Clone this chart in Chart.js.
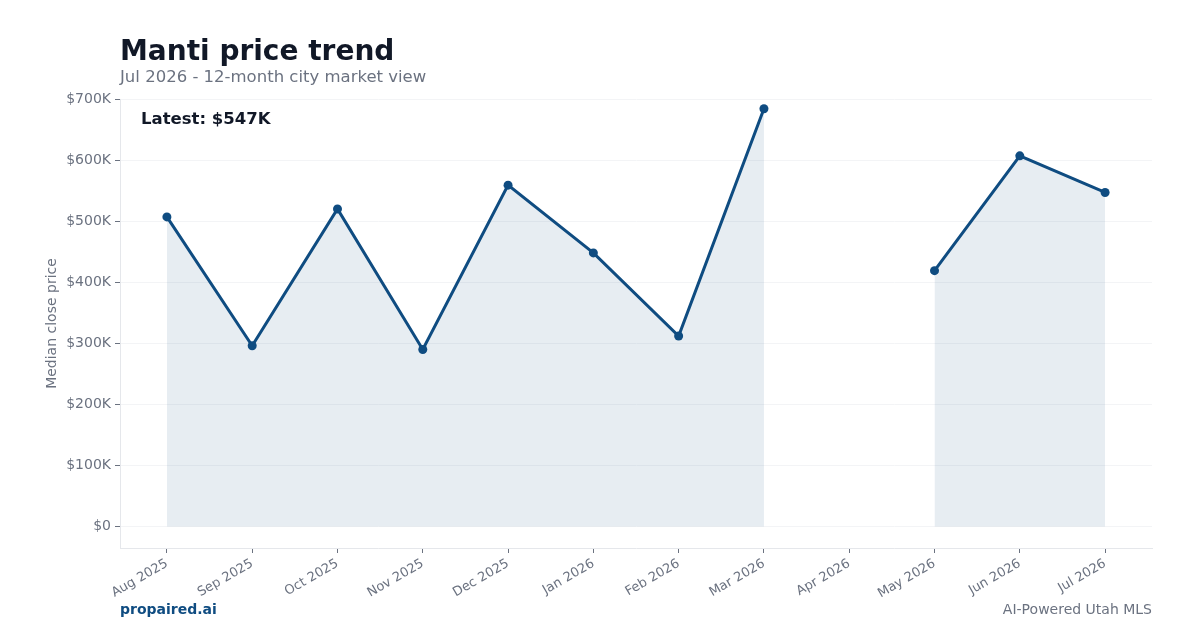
<!DOCTYPE html>
<html>
<head>
<meta charset="utf-8">
<script src="https://cdn.jsdelivr.net/npm/chart.js@4"></script>
<style>
  body { margin: 0; background: #fff; font-family: "DejaVu Sans", sans-serif; }
  #wrap { position: relative; width: 1200px; height: 630px; }
  canvas { position: absolute; left: 0; top: 0; }
  .title { position: absolute; left: 120px; top: 34px; font-size: 28px; font-weight: bold; color: #111827; }
  .sub { position: absolute; left: 120px; top: 67px; font-size: 16.5px; color: #6b7280; }
  .brand { position: absolute; left: 120px; top: 601px; font-size: 14px; font-weight: bold; color: #0f4c81; }
  .tag { position: absolute; right: 48px; top: 601px; font-size: 14px; color: #6b7280; }
</style>
</head>
<body>
<div id="wrap">
  <canvas id="priceChart" width="1200" height="630"></canvas>
  <div class="title">Manti price trend</div>
  <div class="sub">Jul 2026 - 12-month city market view</div>
  <div class="brand">propaired.ai</div>
  <div class="tag">AI-Powered Utah MLS</div>
</div>
<script>
// Monthly labels and median close prices (Apr 2026 had no sales)
const months = ["Aug 2025", "Sep 2025", "Oct 2025", "Nov 2025", "Dec 2025", "Jan 2026",
  "Feb 2026", "Mar 2026", "Apr 2026", "May 2026", "Jun 2026", "Jul 2026"];
const medianPrice = [507000, 296000, 520000, 290000, 559000, 448000,
  312000, 684000, null, 419000, 607000, 547000];
const yTicks = [0, 100000, 200000, 300000, 400000, 500000, 600000, 700000];

const lineColor = "#0f4c81";
const latest = medianPrice[medianPrice.length - 1];

// Draw the "Latest" note in the corner of the plot
const latestLabel = {
  id: "latestLabel",
  afterDraw(chart) {
    const { ctx, chartArea } = chart;
    ctx.save();
    ctx.font = "bold 16.5px 'DejaVu Sans'";
    ctx.fillStyle = "#111827";
    ctx.textBaseline = "middle";
    ctx.fillText(`Latest: $${Math.round(latest / 1000)}K`, chartArea.left + 21, chartArea.top + 21);
    ctx.restore();
  }
};

const points = medianPrice.map((v, i) => ({ x: i, y: v }));

new Chart(document.getElementById("priceChart"), {
  type: "line",
  data: {
    datasets: [{
      data: points,
      borderColor: lineColor,
      borderWidth: 3,
      backgroundColor: "rgba(15, 76, 129, 0.1)",
      fill: "origin",
      pointRadius: 4.5,
      pointBackgroundColor: lineColor,
      pointBorderColor: lineColor,
      pointBorderWidth: 0,
      tension: 0,
      spanGaps: false
    }]
  },
  options: {
    responsive: false,
    animation: false,
    layout: { padding: { top: 99, right: 48, left: 44, bottom: 0 } },
    plugins: { legend: { display: false }, tooltip: { enabled: false } },
    scales: {
      x: {
        type: "linear",
        min: -0.55,
        max: 11.55,
        afterBuildTicks: axis => { axis.ticks = months.map((m, i) => ({ value: i })); },
        afterFit: axis => { axis.height = 82; },
        ticks: {
          autoSkip: false,
          minRotation: 30,
          maxRotation: 30,
          padding: 3,
          color: "#6b7280",
          font: { family: "DejaVu Sans", size: 13 },
          callback: v => months[v]
        },
        grid: { drawOnChartArea: false, tickLength: 5, tickColor: "#6b7280" },
        border: { color: "#e5e7eb" }
      },
      y: {
        min: -35000,
        max: 700000,
        afterBuildTicks: axis => { axis.ticks = yTicks.map(v => ({ value: v })); },
        afterFit: axis => { axis.width = 76; },
        title: {
          display: true,
          text: "Median close price",
          color: "#6b7280",
          font: { family: "DejaVu Sans", size: 14 },
          padding: { top: 0, bottom: 0 }
        },
        ticks: {
          color: "#6b7280",
          padding: 4,
          font: { family: "DejaVu Sans", size: 14 },
          callback: v => v === 0 ? "$0" : "$" + (v / 1000) + "K"
        },
        grid: { color: "#f3f4f6", tickLength: 5, tickColor: "#6b7280" },
        border: { color: "#e5e7eb" }
      }
    }
  },
  plugins: [latestLabel]
});
</script>
</body>
</html>
